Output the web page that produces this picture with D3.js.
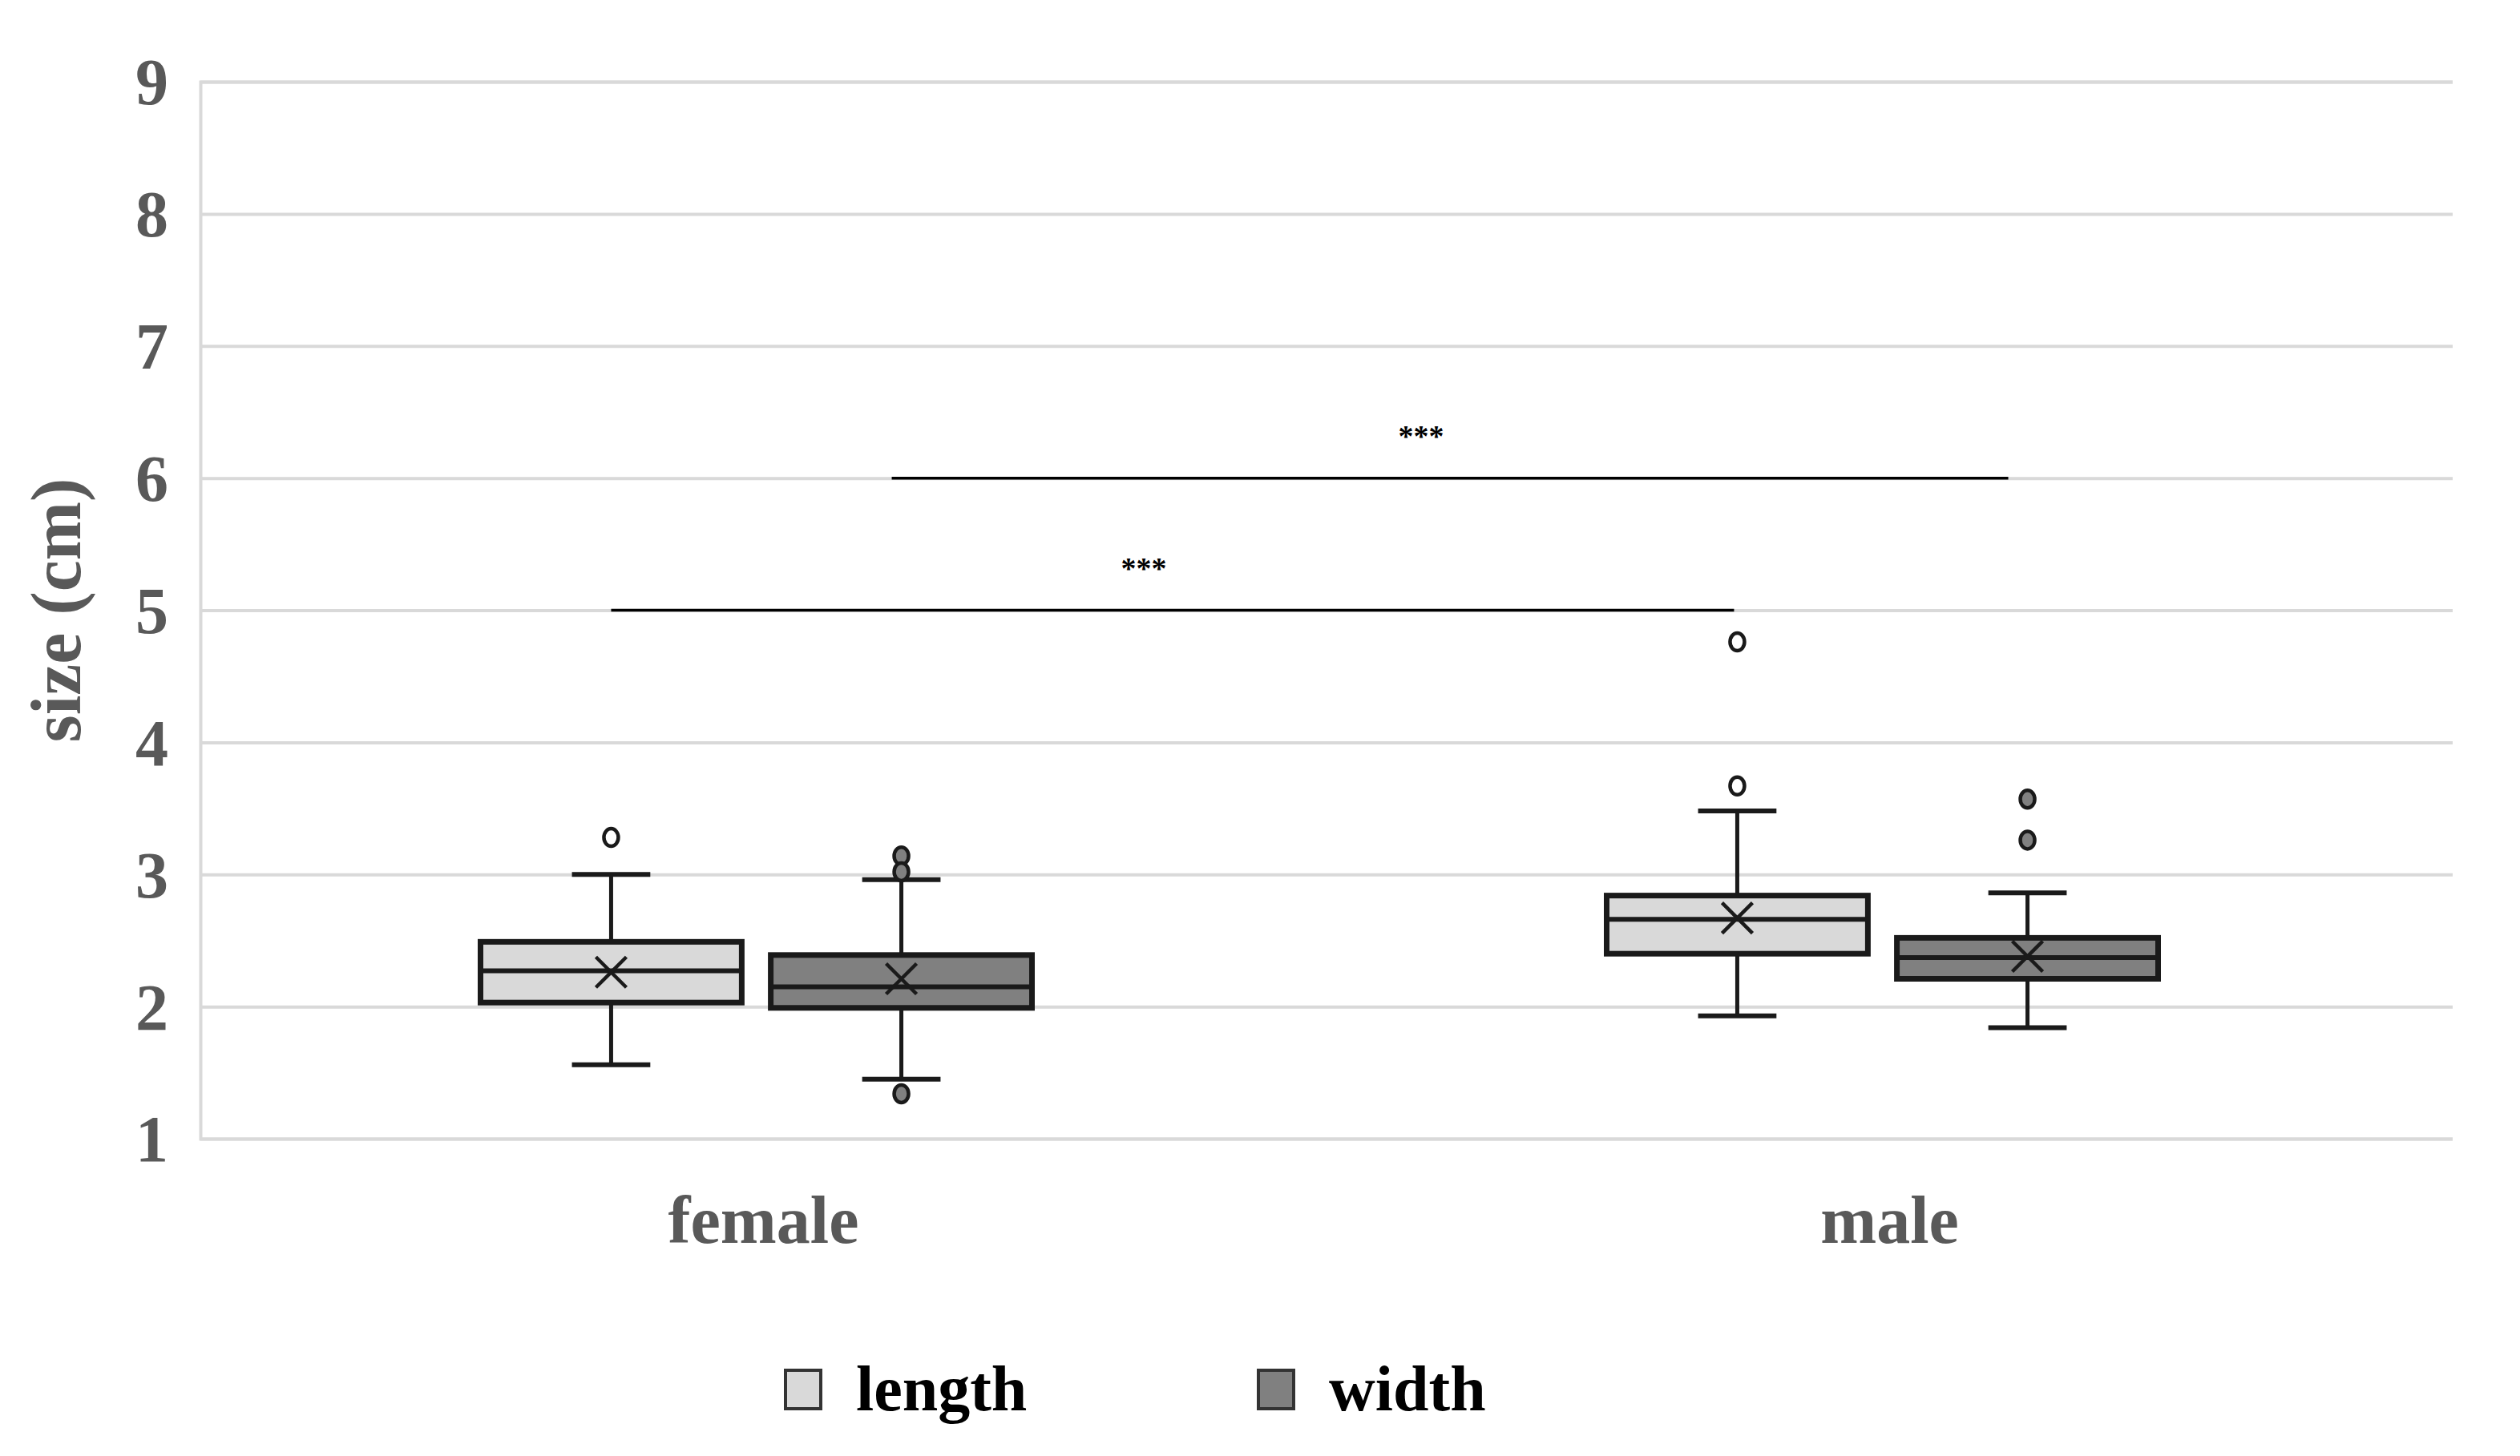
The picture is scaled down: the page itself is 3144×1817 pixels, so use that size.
<!DOCTYPE html>
<html>
<head>
<meta charset="utf-8">
<script src="https://cdn.jsdelivr.net/npm/d3@7"></script>
<style>
  html, body { margin: 0; padding: 0; background: #fff; }
  svg { display: block; }
</style>
</head>
<body>
<svg id="chart" width="3144" height="1817"></svg>
<script>
/************
** data
*************/
var categories = ["female", "male"];
var seriesNames = ["length", "width"];
var yTicks = [1, 2, 3, 4, 5, 6, 7, 8, 9];

var lengthMin = [1.56, 1.93];
var lengthQ1 = [2.03, 2.40];
var lengthMedian = [2.27, 2.66];
var lengthQ3 = [2.49, 2.84];
var lengthMax = [3.00, 3.48];
var lengthMean = [2.26, 2.67];
var lengthOutliers = [[3.28], [3.67, 4.76]];

var widthMin = [1.45, 1.84];
var widthQ1 = [1.99, 2.21];
var widthMedian = [2.15, 2.37];
var widthQ3 = [2.39, 2.52];
var widthMax = [2.96, 2.86];
var widthMean = [2.21, 2.38];
var widthOutliers = [[3.14, 3.02, 1.34], [3.57, 3.26]];

// significance bars: series compared across sexes
var sigSeries = ["length", "width"];
var sigLevels = [5, 6];
var sigLabels = ["***", "***"];

/************
** colors
*************/
var gridColor = "#d9d9d9";
var tickColor = "#595959";
var lineColor = "#1a1a1a";
var fills = { length: "#d9d9d9", width: "#808080" };
var outlierFills = { length: "#ffffff", width: "#808080" };

var fontFamily = "'Liberation Serif', 'DejaVu Serif', serif";

/************
** build rows
*************/
var boxes = [];
categories.forEach(function(cat, i){
    boxes.push({cat: cat, series: "length", min: lengthMin[i], q1: lengthQ1[i], med: lengthMedian[i],
        q3: lengthQ3[i], max: lengthMax[i], mean: lengthMean[i], out: lengthOutliers[i]});
    boxes.push({cat: cat, series: "width", min: widthMin[i], q1: widthQ1[i], med: widthMedian[i],
        q3: widthQ3[i], max: widthMax[i], mean: widthMean[i], out: widthOutliers[i]});
});

/************
** scales
*************/
var plot = { left: 250, right: 3060, top: 102, bottom: 1421 };
var svg = d3.select("#chart");

var y = d3.scaleLinear().domain([1, 9]).range([plot.bottom, plot.top]);
var x = d3.scaleBand().domain(categories).range([plot.left, plot.right]);
var xi = d3.scaleBand().domain(seriesNames).range([-344, 344]).paddingInner(0.1);
var groupShift = -9;

function boxLeft(d) { return x(d.cat) + x.bandwidth() / 2 + groupShift + xi(d.series); }
function boxCenter(d) { return boxLeft(d) + xi.bandwidth() / 2; }
function seriesCenter(cat, s) { return boxCenter({cat: cat, series: s}); }

/************
** grid + axis
*************/
var yAxis = d3.axisLeft(y).tickValues(yTicks).tickSize(-(plot.right - plot.left)).tickFormat(d3.format("d"));
var gy = svg.append("g").attr("transform", "translate(" + plot.left + ",0)").call(yAxis);
gy.select(".domain").attr("stroke", gridColor).attr("stroke-width", 4);
gy.selectAll(".tick line").attr("stroke", gridColor).attr("stroke-width", 4);
gy.selectAll(".tick text")
    .attr("x", -40)
    .attr("dy", "0.34em")
    .attr("fill", tickColor)
    .style("font-family", fontFamily)
    .style("font-weight", "bold")
    .style("font-size", "82px");

svg.append("text")
    .attr("transform", "translate(74," + y(5) + ") rotate(-90)")
    .attr("text-anchor", "middle")
    .attr("dy", "0.3em")
    .attr("fill", tickColor)
    .style("font-family", fontFamily)
    .style("font-weight", "bold")
    .style("font-size", "88px")
    .text("size (cm)");

var xAxis = d3.axisBottom(x).tickSize(0).tickPadding(0);
var gx = svg.append("g").attr("transform", "translate(0," + plot.bottom + ")").call(xAxis);
gx.select(".domain").remove();
gx.selectAll(".tick text")
    .attr("y", 0)
    .attr("dy", 0)
    .attr("transform", "translate(0,130)")
    .attr("fill", tickColor)
    .style("font-family", fontFamily)
    .style("font-weight", "bold")
    .style("font-size", "84px");

/************
** boxes
*************/
var capW = xi.bandwidth() * 0.3;
var g = svg.selectAll("g.box").data(boxes).enter().append("g").attr("class", "box");

// whiskers
g.append("line")
    .attr("x1", boxCenter).attr("x2", boxCenter)
    .attr("y1", function(d){ return y(d.max); }).attr("y2", function(d){ return y(d.min); })
    .attr("stroke", lineColor).attr("stroke-width", 5);
g.append("line")
    .attr("x1", function(d){ return boxCenter(d) - capW / 2; })
    .attr("x2", function(d){ return boxCenter(d) + capW / 2; })
    .attr("y1", function(d){ return y(d.max); }).attr("y2", function(d){ return y(d.max); })
    .attr("stroke", lineColor).attr("stroke-width", 6);
g.append("line")
    .attr("x1", function(d){ return boxCenter(d) - capW / 2; })
    .attr("x2", function(d){ return boxCenter(d) + capW / 2; })
    .attr("y1", function(d){ return y(d.min); }).attr("y2", function(d){ return y(d.min); })
    .attr("stroke", lineColor).attr("stroke-width", 6);

// box
g.append("rect")
    .attr("x", boxLeft)
    .attr("y", function(d){ return y(d.q3); })
    .attr("width", xi.bandwidth())
    .attr("height", function(d){ return y(d.q1) - y(d.q3); })
    .attr("fill", function(d){ return fills[d.series]; })
    .attr("stroke", lineColor).attr("stroke-width", 7);

// median
g.append("line")
    .attr("x1", boxLeft)
    .attr("x2", function(d){ return boxLeft(d) + xi.bandwidth(); })
    .attr("y1", function(d){ return y(d.med); }).attr("y2", function(d){ return y(d.med); })
    .attr("stroke", lineColor).attr("stroke-width", 6);

// mean marker (x)
var mx = 19;
g.append("path")
    .attr("d", function(d){
        var cx = boxCenter(d), cy = y(d.mean);
        return "M" + (cx - mx) + "," + (cy - mx) + "L" + (cx + mx) + "," + (cy + mx) +
               "M" + (cx - mx) + "," + (cy + mx) + "L" + (cx + mx) + "," + (cy - mx);
    })
    .attr("stroke", lineColor).attr("stroke-width", 4.5).attr("fill", "none");

// outliers
g.selectAll("ellipse").data(function(d){
        return d.out.map(function(v){ return {v: v, d: d}; });
    })
    .enter().append("ellipse")
    .attr("cx", function(o){ return boxCenter(o.d); })
    .attr("cy", function(o){ return y(o.v); })
    .attr("rx", 9).attr("ry", 11)
    .attr("fill", function(o){ return outlierFills[o.d.series]; })
    .attr("stroke", lineColor).attr("stroke-width", 4.5);

/************
** significance bars
*************/
// hand-drawn bars in the original sit a little left of the box centres
var sigNudge = [[0, -4], [-12, -24]];
sigSeries.forEach(function(s, i){
    var x1 = seriesCenter(categories[0], s) + sigNudge[i][0];
    var x2 = seriesCenter(categories[1], s) + sigNudge[i][1];
    svg.append("line")
        .attr("x1", x1).attr("x2", x2)
        .attr("y1", y(sigLevels[i])).attr("y2", y(sigLevels[i]))
        .attr("stroke", "#000").attr("stroke-width", 3.5);
    svg.append("text")
        .attr("x", (x1 + x2) / 2 - 36)
        .attr("y", y(sigLevels[i]) - 40)
        .attr("text-anchor", "middle")
        .attr("fill", "#000")
        .style("font-family", fontFamily)
        .style("font-weight", "bold")
        .style("font-size", "38px")
        .text(sigLabels[i]);
});

/************
** legend
*************/
var legendX = [980, 1570];
var legendY = 1734;
var lg = svg.selectAll("g.legend").data(seriesNames).enter().append("g").attr("class", "legend")
    .attr("transform", function(d, i){ return "translate(" + legendX[i] + "," + legendY + ")"; });
lg.append("rect")
    .attr("x", 0).attr("y", -24).attr("width", 44).attr("height", 48)
    .attr("fill", function(d){ return fills[d]; })
    .attr("stroke", "#333").attr("stroke-width", 4);
lg.append("text")
    .attr("x", 88).attr("y", 0).attr("dy", "0.33em")
    .attr("fill", "#000")
    .style("font-family", fontFamily)
    .style("font-weight", "bold")
    .style("font-size", "80px")
    .text(function(d){ return d; });
</script>
</body>
</html>
